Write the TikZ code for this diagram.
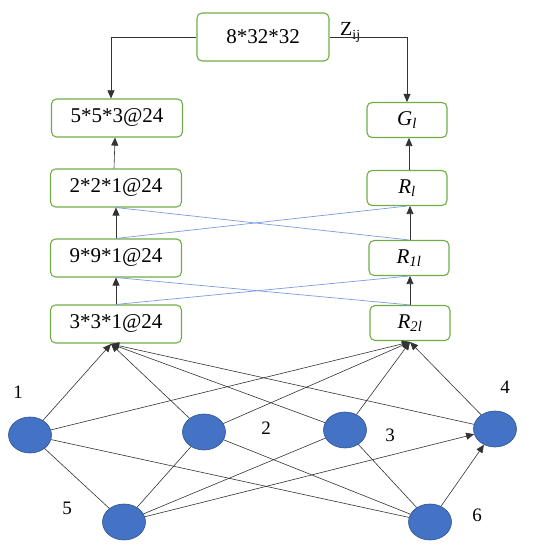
\documentclass[tikz,border=0pt]{standalone}
\usepackage{fontspec}
\setmainfont{Liberation Serif}
\usetikzlibrary{arrows.meta,shapes.geometric}
\definecolor{boxgreen}{HTML}{70AD47}
\definecolor{linkblue}{HTML}{7B9BE0}
\definecolor{nodeblue}{HTML}{4472C4}
\definecolor{nodeedge}{HTML}{2F528F}
\tikzset{
  layerbox/.style={draw=boxgreen, line width=1.1pt, rounded corners=5pt, fill=white,
    minimum width=131pt, minimum height=38pt, inner sep=0pt, font=\fontsize{21}{24}\selectfont},
  outbox/.style={layerbox, minimum width=80pt, minimum height=35pt},
  unit/.style={ellipse, draw=nodeedge, fill=nodeblue, line width=0.6pt,
    minimum width=43pt, minimum height=36pt, inner sep=0pt},
  numlabel/.style={font=\fontsize{19}{22}\selectfont, inner sep=0pt},
  conn/.style={draw=black!80, line width=0.6pt},
  arr/.style={conn, -{Triangle[length=8pt,width=7pt]}},
  crosslink/.style={draw=linkblue, line width=0.7pt},
}
\begin{document}
\begin{tikzpicture}[x=1pt,y=-1pt]
\useasboundingbox (0,0) rectangle (550,548);
% boxes
\node[layerbox, minimum width=132pt, minimum height=48pt] (top) at (263,37) {8*32*32};
\node[layerbox] (b5) at (117,118) {5*5*3@24};
\node[layerbox] (b2) at (116,188) {2*2*1@24};
\node[layerbox] (b9) at (116,258) {9*9*1@24};
\node[layerbox] (b3) at (116,324) {3*3*1@24};
\node[outbox] (G) at (407,120) {\itshape G\textsubscript{l}};
\node[outbox] (Rl) at (407,188) {\itshape R\textsubscript{l}};
\node[outbox] (R1) at (409,258) {\itshape R\textsubscript{1l}};
\node[outbox] (R2) at (410,323) {\itshape R\textsubscript{2l}};
\node[font=\fontsize{20}{22}\selectfont, anchor=base west, inner sep=0pt] (zij) at (340,36) {Z\textsubscript{ij}};
% top connectors
\draw[arr] (top.west) -| ([xshift=-6pt]b5.north);
\draw[arr] (top.east) -| (G.north);
% blue cross links
\draw[crosslink] (b9.north) -- (Rl.south);
\draw[crosslink] (R1.north) -- (b2.south);
\draw[crosslink] (b3.north) -- (R1.south);
\draw[crosslink] (R2.north) -- (b9.south);
% vertical arrows
\draw[arr] (b3.north) -- (b9.south);
\draw[arr] (b9.north) -- (b2.south);
\draw[arr] ([xshift=-2pt]b2.north) -- ([xshift=-2pt]b5.south);
\draw[arr] (R2.north) -- (R2.north |- R1.south);
\draw[arr] ([xshift=1pt]R1.north) -- ([xshift=1pt]R1.north |- Rl.south);
\draw[arr] ([xshift=2pt]Rl.north) -- ([xshift=2pt]Rl.north |- G.south);
% units
\node[unit] (n1) at (30,435) {};
\node[unit] (n2) at (204,432) {};
\node[unit] (n3) at (345,430) {};
\node[unit] (n4) at (495,429) {};
\node[unit] (n5) at (124,522) {};
\node[unit] (n6) at (430,522) {};
\node[numlabel] (l1) at (18,392) {1};
\node[numlabel] (l2) at (266,428) {2};
\node[numlabel] (l3) at (390,435) {3};
\node[numlabel] (l4) at (505,387) {4};
\node[numlabel] (l5) at (67,508) {5};
\node[numlabel] (l6) at (477,515) {6};
\coordinate (in3) at (111,344);
\coordinate (inR) at (410,342);
% network connections
\draw[arr] (n1) -- (in3);
\draw[arr] (n2) -- (in3);
\draw[arr] (n3) -- (in3);
\draw[arr] (n4) -- (in3);
\draw[arr] (n1) -- (inR);
\draw[arr] (n2) -- (inR);
\draw[arr] (n3) -- (inR);
\draw[arr] (n4) -- (inR);
\draw[conn] (n1) -- (n5);
\draw[conn] (n1) -- (n6);
\draw[conn] (n2) -- (n5);
\draw[conn] (n2) -- (n6);
\draw[conn] (n3) -- (n5);
\draw[conn] (n3) -- (n6);
\draw[arr] (n5) -- (n4);
\draw[arr] (n6) -- (n4);
\end{tikzpicture}
\end{document}
